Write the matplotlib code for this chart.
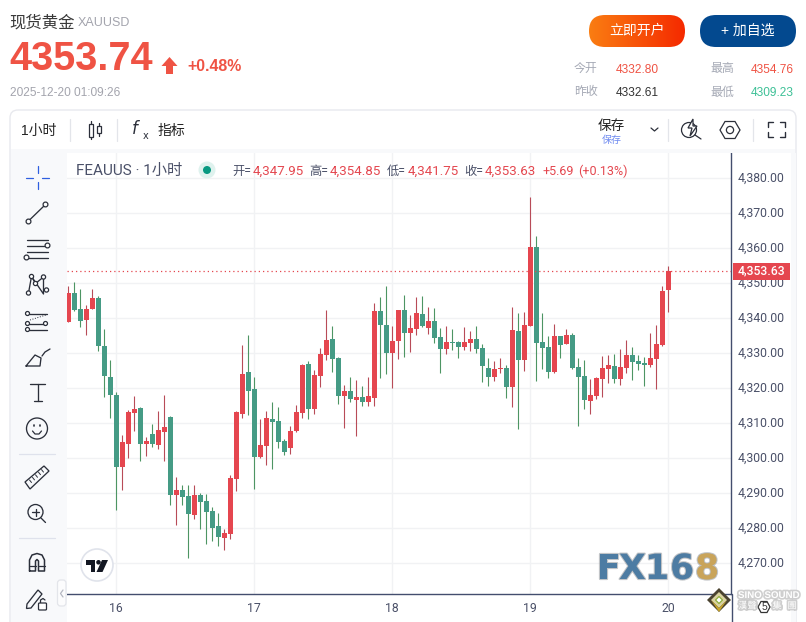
#!/usr/bin/env python3
# -*- coding: utf-8 -*-
"""现货黄金 1小时K线页面截图复刻"""
import matplotlib
matplotlib.use('Agg')
import matplotlib.pyplot as plt
import matplotlib.patheffects as pe
from matplotlib.colors import LinearSegmentedColormap
from matplotlib.patches import Circle, FancyBboxPatch, Polygon, Rectangle
from matplotlib.transforms import ScaledTranslation
import numpy as np

plt.rcParams['font.family'] = ['Liberation Sans', 'Noto Sans CJK SC', 'DejaVu Sans']

# ========== 数据 ==========
opens = [4339.0, 4347.2, 4342.7, 4339.5, 4342.7, 4345.8, 4332.1, 4323.2, 4318.1, 4297.5,
         4304.1, 4313.0, 4314.4, 4304.1, 4307.0, 4303.8, 4307.5, 4311.8, 4289.5, 4291.0,
         4289.2, 4283.8, 4289.5, 4287.8, 4285.0, 4280.7, 4277.2, 4278.4, 4294.1, 4312.7,
         4324.7, 4319.8, 4300.4, 4303.5, 4311.2, 4310.7, 4305.0, 4303.0, 4307.8, 4313.0,
         4327.0, 4314.1, 4323.5, 4329.5, 4334.1, 4328.7, 4317.8, 4319.2, 4316.7, 4317.5,
         4316.1, 4317.2, 4342.1, 4338.1, 4330.1, 4333.5, 4342.4, 4335.8, 4337.0, 4341.2,
         4337.2, 4339.2, 4334.7, 4331.2, 4333.2, 4333.2, 4331.8, 4333.0, 4334.1, 4331.5,
         4325.8, 4323.2, 4325.5, 4325.8, 4320.4, 4336.4, 4328.1, 4337.8, 4360.4, 4333.2,
         4331.8, 4324.7, 4335.0, 4332.7, 4335.2, 4326.1, 4323.5, 4316.4, 4317.8, 4322.7,
         4325.5, 4326.4, 4322.7, 4325.8, 4329.5, 4327.8, 4327.2, 4326.7, 4328.4, 4332.4,
         4347.95]
highs = [4349.2, 4350.4, 4348.4, 4343.8, 4348.4, 4346.4, 4337.0, 4328.1, 4319.0, 4306.7,
         4313.8, 4317.8, 4314.7, 4306.1, 4309.8, 4313.5, 4318.1, 4312.1, 4294.7, 4292.4,
         4292.4, 4292.4, 4290.1, 4289.8, 4286.1, 4284.4, 4279.8, 4295.2, 4313.5, 4332.4,
         4335.2, 4323.2, 4311.2, 4313.5, 4316.1, 4314.7, 4305.5, 4309.2, 4315.2, 4327.0,
         4327.8, 4325.2, 4331.5, 4342.4, 4337.8, 4329.0, 4321.0, 4323.2, 4322.4, 4320.7,
         4323.2, 4344.4, 4346.1, 4349.2, 4337.8, 4342.4, 4346.7, 4341.0, 4346.1, 4346.4,
         4343.2, 4343.0, 4337.2, 4337.8, 4337.0, 4333.5, 4337.5, 4336.4, 4337.8, 4332.7,
         4328.7, 4327.8, 4328.7, 4326.7, 4343.2, 4341.5, 4341.8, 4374.7, 4363.5, 4341.5,
         4335.0, 4338.4, 4335.0, 4337.0, 4335.8, 4328.7, 4328.1, 4322.7, 4323.2, 4329.2,
         4329.5, 4329.8, 4331.2, 4333.8, 4331.8, 4329.5, 4329.0, 4335.8, 4338.1, 4349.2,
         4354.85]
lows = [4339.0, 4342.1, 4337.5, 4335.2, 4342.7, 4330.7, 4317.5, 4311.5, 4285.2, 4291.0,
        4300.1, 4307.8, 4299.2, 4300.7, 4303.2, 4302.7, 4299.2, 4286.7, 4281.0, 4286.7,
        4271.5, 4282.7, 4279.8, 4275.5, 4276.4, 4275.0, 4273.8, 4277.0, 4290.7, 4311.5,
        4312.4, 4291.2, 4300.1, 4298.1, 4297.0, 4303.0, 4301.0, 4301.2, 4307.5, 4311.5,
        4311.2, 4312.7, 4320.4, 4328.1, 4324.7, 4315.5, 4308.7, 4316.1, 4306.4, 4315.0,
        4315.0, 4315.0, 4323.0, 4324.1, 4320.1, 4328.4, 4329.0, 4330.4, 4335.2, 4337.5,
        4335.5, 4333.0, 4324.4, 4329.8, 4331.0, 4328.7, 4331.0, 4330.7, 4330.1, 4321.8,
        4320.7, 4322.1, 4324.4, 4317.2, 4314.7, 4308.4, 4325.0, 4337.8, 4322.1, 4325.5,
        4323.0, 4324.4, 4328.7, 4332.7, 4325.5, 4309.2, 4314.1, 4312.7, 4317.0, 4317.5,
        4321.5, 4321.5, 4321.0, 4324.4, 4322.4, 4325.2, 4320.7, 4326.1, 4319.8, 4332.1,
        4341.75]
closes = [4347.2, 4342.4, 4339.2, 4342.7, 4345.8, 4332.1, 4323.5, 4318.1, 4297.5, 4304.7,
          4313.2, 4314.1, 4304.1, 4305.0, 4304.1, 4308.1, 4309.0, 4289.5, 4291.0, 4289.0,
          4284.1, 4289.5, 4287.5, 4284.7, 4280.1, 4277.5, 4278.7, 4294.4, 4313.2, 4324.1,
          4319.2, 4300.4, 4303.8, 4311.5, 4310.4, 4304.7, 4301.8, 4307.8, 4313.2, 4326.7,
          4314.1, 4323.8, 4329.8, 4333.8, 4328.4, 4317.8, 4319.2, 4317.0, 4317.5, 4316.1,
          4317.8, 4342.1, 4338.1, 4330.1, 4333.5, 4342.4, 4335.8, 4337.2, 4341.5, 4337.8,
          4339.2, 4334.4, 4331.2, 4333.2, 4333.0, 4331.8, 4333.2, 4334.1, 4331.2, 4326.4,
          4323.2, 4325.5, 4325.8, 4320.4, 4336.7, 4328.1, 4338.1, 4360.4, 4333.0, 4331.5,
          4324.7, 4335.0, 4332.4, 4335.2, 4325.8, 4323.2, 4316.7, 4318.1, 4322.9, 4325.8,
          4326.7, 4322.7, 4326.1, 4329.5, 4327.5, 4327.0, 4326.7, 4328.7, 4332.7, 4347.8,
          4353.63]
day_ticks = [8, 31, 54, 77, 100]
day_labels = ['16', '17', '18', '19', '20']
price_ticks = [4270, 4280, 4290, 4300, 4310, 4320, 4330, 4340, 4350, 4360, 4370, 4380]
last_price = 4353.63

# ========== 颜色 ==========
UP_BODY, DOWN_BODY = '#e5464f', '#459b85'
UP_WICK, DOWN_WICK = '#b84b58', '#4d9563'
GRID = '#f1f2f4'
AXIS = '#434e6e'
TEXT = '#4a5068'
ICON = '#2b2f3a'
RED = '#ef5344'
LABEL_RED = '#e4474f'
GREY = '#a3a4ad'

W, H = 806, 622
fig = plt.figure(figsize=(W / 100, H / 100), dpi=100, facecolor='white')

# ========== K线主图 ==========
AX_L, AX_R, AX_T, AX_B = 67, 731, 153, 594
ax = fig.add_axes([AX_L / W, 1 - AX_B / H, (AX_R - AX_L) / W, (AX_B - AX_T) / H])
ax.set_xlim((AX_L - 68.3) / 6, (AX_R - 68.3) / 6)
ax.set_ylim(4350 - (AX_B - 283.3) / 3.5, 4350 + (283.3 - AX_T) / 3.5)

o, h, l, c = map(np.array, (opens, highs, lows, closes))
x = np.arange(len(o))
up = c >= o
ax.vlines(x, l, h, colors=np.where(up, UP_WICK, DOWN_WICK), linewidth=0.8, zorder=3)
ax.bar(x, np.abs(c - o), bottom=np.minimum(o, c), width=5 / 6,
       color=np.where(up, UP_BODY, DOWN_BODY), linewidth=0, zorder=4)
ax.axhline(last_price, color=LABEL_RED, linewidth=0.9, linestyle=(0, (1, 2.4)), zorder=5)

ax.set_xticks(day_ticks, day_labels)
ax.set_yticks(price_ticks, [f'{p:,.2f}' for p in price_ticks])
ax.yaxis.tick_right()
ax.grid(True, color=GRID, linewidth=1)
ax.set_axisbelow(True)
ax.tick_params(axis='both', length=0, labelsize=8.8, labelcolor=TEXT)
ax.tick_params(axis='y', pad=5)
ax.tick_params(axis='x', pad=6)
for lab in ax.get_xticklabels() + ax.get_yticklabels():
    lab.set_fontfamily(['Roboto', 'DejaVu Sans'])
# 价格刻度文字整体上移一点
for lab in ax.get_yticklabels():
    lab.set_transform(lab.get_transform() + ScaledTranslation(0, 0.018, fig.dpi_scale_trans))
for side in ('top', 'left'):
    ax.spines[side].set_visible(False)
for side in ('right', 'bottom'):
    ax.spines[side].set_color(AXIS)
    ax.spines[side].set_linewidth(1)

# ========== 页面覆盖层（像素坐标） ==========
ui = fig.add_axes([0, 0, 1, 1], zorder=5)
ui.set_xlim(0, W)
ui.set_ylim(H, 0)
ui.axis('off')
ui.patch.set_alpha(0)


def txt(px, py, s, size=9, color=ICON, ha='left', va='center', **kw):
    return ui.text(px, py, s, fontsize=size, color=color, ha=ha, va=va, **kw)


def seg(pts, color=ICON, lw=0.95, **kw):
    xs, ys = zip(*pts)
    ui.plot(xs, ys, color=color, linewidth=lw, solid_capstyle='round', **kw)


def dot(px, py, r=2.4, ec=ICON, fc='white', lw=0.9):
    ui.add_patch(Circle((px, py), r, facecolor=fc, edgecolor=ec, linewidth=lw, zorder=6))


def rbox(x0, y0, x1, y1, r, fc='white', ec='none', lw=1, z=1):
    p = FancyBboxPatch((x0 + r, y0 + r), x1 - x0 - 2 * r, y1 - y0 - 2 * r,
                       boxstyle=f'round,pad={r},rounding_size={r}',
                       facecolor=fc, edgecolor=ec, linewidth=lw, zorder=z)
    ui.add_patch(p)
    return p


# 顶部行情
txt(9, 22.5, '现货黄金', 11.8, '#3a3a3a')
txt(78, 23.5, 'XAUUSD', 9, GREY)
txt(9, 59, '4353.74', 28.5, RED, fontweight='bold')
ui.add_patch(Polygon([(169.5, 57), (177.5, 66), (173, 66), (173, 74), (166, 74), (166, 66), (161.5, 66)],
                     facecolor=RED, edgecolor='none'))
txt(187, 66.5, '+0.48%', 11.4, RED, fontweight='bold')
txt(10, 93.5, '2025-12-20 01:09:26', 8.6, GREY)

# 按钮
btn = rbox(589, 15, 685, 47, 16, fc='none')
grad = LinearSegmentedColormap.from_list('btn', ['#fa7d12', '#f52a00'])
img = ui.imshow(np.linspace(0, 1, 96).reshape(1, -1), cmap=grad, extent=(589, 685, 47, 15),
                aspect='auto', zorder=2)
img.set_clip_path(btn)
ui.set_xlim(0, W)
ui.set_ylim(H, 0)
txt(637, 31, '立即开户', 10, 'white', ha='center', zorder=3)
rbox(700, 15, 796, 47, 16, fc='#03498f')
txt(748, 31, '+ 加自选', 10, 'white', ha='center', zorder=3)

# 今开/最高
txt(574, 69, '今开', 8.6, '#a5a9b5')
txt(616, 70, '4332.80', 8.6, RED)
txt(710, 69, '最高', 8.6, '#a5a9b5')
txt(751, 70, '4354.76', 8.6, RED)
txt(574, 92.5, '昨收', 8.6, '#a5a9b5')
txt(616, 93.5, '4332.61', 8.6, '#333333')
txt(710, 92.5, '最低', 8.6, '#a5a9b5')
txt(751, 93.5, '4309.23', 8.6, '#3cc096')

# 工具栏和外框
rbox(10, 110, 796, 640, 8, fc='none', ec='#e8e9ee', lw=1, z=1)
ui.add_patch(Rectangle((11, 149), 784, 4, facecolor='#f8f9fb', edgecolor='none', zorder=1))
ui.add_patch(Rectangle((11, 149), 56, 473, facecolor='#f8f9fb', edgecolor='none', zorder=1))
ui.add_patch(Rectangle((791, 153), 5, 469, facecolor='#f8f9fb', edgecolor='none', zorder=1))
for sx in (70, 117, 668, 753):
    seg([(sx, 119), (sx, 141)], '#e3e5ea', 0.9)
txt(21, 130.5, '1小时', 10, '#222222')
# 蜡烛图标
seg([(90.5, 121), (90.5, 139)], ICON, 0.9)
seg([(98.5, 123), (98.5, 136)], ICON, 0.9)
ui.add_patch(Rectangle((88.5, 124), 4, 13, facecolor='white', edgecolor=ICON, linewidth=0.9, zorder=6))
ui.add_patch(Rectangle((96.5, 126), 4, 7, facecolor='white', edgecolor=ICON, linewidth=0.9, zorder=6))
# fx 图标
txt(131, 129, '$f$', 12, ICON, family='DejaVu Sans')
txt(143, 136, 'x', 7, ICON, family='DejaVu Sans')
txt(158, 131, '指标', 10, '#222222')
txt(598, 126, '保存', 9.8, '#222222')
txt(602, 139.5, '保存', 7.2, '#6f8bf0')
seg([(651, 128), (654.5, 131), (658, 128)], ICON, 0.9)
# 闪电放大镜
ui.add_patch(Circle((689, 130), 7.5, facecolor='none', edgecolor=ICON, linewidth=0.9))
seg([(695, 135), (701, 139)], ICON, 0.9)
ui.add_patch(Polygon([(693, 119), (688, 128), (692, 128), (690, 136), (697, 126), (693, 126)],
                     facecolor='white', edgecolor=ICON, linewidth=0.9, zorder=6))
# 六边形
ui.add_patch(Polygon([(720, 130), (725, 121.5), (735, 121.5), (740, 130), (735, 138.5), (725, 138.5)],
                     facecolor='none', edgecolor=ICON, linewidth=0.9))
ui.add_patch(Circle((730, 130), 3.6, facecolor='none', edgecolor=ICON, linewidth=0.9))
# 全屏
for cx, cy, dx, dy in ((768, 122, 1, 1), (785, 122, -1, 1), (768, 137, 1, -1), (785, 137, -1, -1)):
    seg([(cx + 5 * dx, cy), (cx, cy), (cx, cy + 5 * dy)], ICON, 1.0)

# 图例
legend_font = ['Roboto', 'Noto Sans CJK SC', 'DejaVu Sans']
txt(76, 170.5, 'FEAUUS · 1小时', 11, TEXT, family=legend_font)
ui.add_patch(Circle((207, 170), 8.5, facecolor='#dff2ee', edgecolor='none'))
ui.add_patch(Circle((207, 170), 4, facecolor='#089981', edgecolor='none'))
for lx, name, vx, val in ((232, '开=', 253, '4,347.95'), (309, '高=', 330, '4,354.85'),
                          (387, '低=', 408, '4,341.75'), (464, '收=', 485, '4,353.63')):
    txt(lx, 171.5, name, 8.8, TEXT, family=legend_font)
    txt(vx, 171.5, val, 9.6, LABEL_RED, family=legend_font)
txt(542, 171.5, '+5.69', 9, LABEL_RED, family=legend_font)
txt(578, 171.5, '(+0.13%)', 9, LABEL_RED, family=legend_font)

# 最新价标签
ui.add_patch(Rectangle((733, 263), 57, 17, facecolor='#e5464f', edgecolor='none', zorder=6))
txt(738, 271, f'{last_price:,.2f}', 8.8, 'white', family=legend_font, zorder=7, fontweight='medium')
seg([(731.5, 594), (731.5, 622)], AXIS, 1)

# 左侧工具图标
seg([(26, 177.5), (33, 177.5)], '#2f5fe0', 0.9)
seg([(42, 177.5), (49, 177.5)], '#2f5fe0', 0.9)
seg([(37.5, 166), (37.5, 173)], '#2f5fe0', 0.9)
seg([(37.5, 182), (37.5, 189)], '#2f5fe0', 0.9)
seg([(28.5, 221), (45.5, 204.5)])
dot(28.5, 221.5)
dot(45.5, 204.5)
for ly in (239.5, 245.5, 251.5, 257.5):
    seg([(27, ly), (48, ly)])
dot(47.5, 245.5)
dot(26.5, 257.5)
seg([(28.5, 293), (31.5, 276.5), (43.5, 294), (43.5, 277)])
seg([(31.5, 276.5), (35.5, 283.5), (43.5, 277)])
for dx, dy in ((28.5, 293), (31.5, 276.5), (35.5, 283.5), (43.5, 277), (46.5, 290)):
    dot(dx, dy, 2.1)
seg([(29, 313.5), (47, 313.5)])
seg([(29, 323.5), (45, 323.5)])
seg([(29, 329.5), (47, 329.5)])
seg([(30, 320), (46, 315)], ICON, 0.7, linestyle=':')
for dx, dy in ((27.5, 313.5), (27.5, 323.5), (45.5, 323.5), (27.5, 329.5)):
    dot(dx, dy, 2)
seg([(26, 366), (40, 366), (41, 358), (35, 355), (26, 366)])
seg([(42, 356), (45, 352), (50, 349)])
seg([(30, 384), (45, 384)])
seg([(37.5, 384), (37.5, 401)])
seg([(33.5, 401), (41.5, 401)])
ui.add_patch(Circle((37, 428.5), 10.5, facecolor='none', edgecolor=ICON, linewidth=0.95))
seg([(34, 425), (34, 426)], ICON, 1.2)
seg([(40, 425), (40, 426)], ICON, 1.2)
seg([(32.5, 431), (35, 434), (39, 434), (41.5, 431)], ICON, 0.9)
seg([(19, 453.5), (55, 453.5)], '#dfe2ec', 0.9)
ui.add_patch(Polygon([(25, 482), (44, 466), (49, 471), (30, 489)], facecolor='none', edgecolor=ICON,
                     linewidth=0.95))
for k in range(5):
    seg([(29.5 + 3 * k, 480 - 2.6 * k), (31.5 + 3 * k, 482.5 - 2.6 * k)], ICON, 0.7)
ui.add_patch(Circle((35.5, 512), 7.5, facecolor='none', edgecolor=ICON, linewidth=0.95))
seg([(41, 518), (45.5, 522.5)])
seg([(32, 512), (39, 512)])
seg([(35.5, 508.5), (35.5, 515.5)])
seg([(19, 538), (55, 538)], '#dfe2ec', 0.9)
# 磁铁
seg([(29.5, 571), (29.5, 560), (32, 555), (37, 553.5), (42, 555), (44.5, 560), (44.5, 571),
     (38.5, 571), (38.5, 561), (37, 559.5), (35.5, 561), (35.5, 571), (29.5, 571)], ICON, 1.1)
seg([(29.5, 566), (35.5, 566)], ICON, 0.9)
seg([(38.5, 566), (44.5, 566)], ICON, 0.9)
# 锁定画笔
ui.add_patch(Polygon([(27, 604), (38, 590), (42, 594), (31, 608), (26.5, 608.5)],
                     facecolor='none', edgecolor=ICON, linewidth=0.95))
rbox(38.5, 603, 46.5, 610, 1, fc='white', ec=ICON, lw=0.9, z=6)
seg([(40.5, 603), (40.5, 600), (43, 598.5), (45, 600)], ICON, 0.9)

# 收起按钮
rbox(57.5, 580, 66, 606, 3, fc='#fcfcfd', ec='#e3e5ea', lw=0.9, z=6)
seg([(63, 590), (60.5, 593.5), (63, 597)], '#b5b8c2', 0.9, zorder=7)

# TV 标志
ui.add_patch(Circle((97, 565), 16, facecolor='white', edgecolor='#e0e3eb', linewidth=1.2, zorder=6))
ui.add_patch(Polygon([(86, 560), (95, 560), (95, 572), (90.5, 572), (90.5, 564.5), (86, 564.5)],
                     facecolor='#131722', edgecolor='none', zorder=7))
ui.add_patch(Circle((98.5, 562.3), 2.3, facecolor='#131722', edgecolor='none', zorder=7))
ui.add_patch(Polygon([(102, 560), (108, 560), (102.5, 572), (96.5, 572)],
                     facecolor='#131722', edgecolor='none', zorder=7))

# FX168 水印
shadow = [pe.withStroke(linewidth=1.6, foreground='#8f9499', alpha=0.55)]
for gx, ch, col in ((597, 'F', '#4d7ca3'), (619, 'X', '#4d7ca3'), (645, '1', '#4d7ca3'),
                    (670, '6', '#4d7ca3'), (695, '8', '#c9a45a')):
    txt(gx, 569, ch, 25, col, family='DejaVu Sans', fontweight='bold', zorder=6, path_effects=shadow)

# 右下角水印
ui.add_patch(Polygon([(719, 588), (731, 600), (719, 612), (707, 600)], facecolor='#4a4330', edgecolor='none', zorder=6))
ui.add_patch(Polygon([(719, 592), (727, 600), (719, 608), (711, 600)], facecolor='#d9d2a0', edgecolor='none', zorder=6))
ui.add_patch(Polygon([(711, 600), (719, 608), (727, 600), (719, 612)], facecolor='#c8a52a', edgecolor='none', zorder=6))
ui.add_patch(Polygon([(719, 596.5), (722.5, 600), (719, 603.5), (715.5, 600)], facecolor='white',
                     edgecolor='#8fae3a', linewidth=0.9, zorder=7))
ui.add_patch(Polygon([(758, 607), (761, 601.5), (767, 601.5), (770, 607), (767, 612.5), (761, 612.5)],
                     facecolor='none', edgecolor='#333333', linewidth=0.9, zorder=6))
txt(764, 607, '5', 7.5, '#333333', ha='center', zorder=6)
glow = [pe.withStroke(linewidth=2.4, foreground='#c4c4c4', alpha=0.8)]
txt(738, 595, 'SINO SOUND', 7, 'white', fontweight='bold', zorder=8, path_effects=glow)
for gx, ch in ((743, '漢'), (752, '聲'), (777, '集'), (792, '團')):
    txt(gx, 606, ch, 6.6, 'white', ha='center', zorder=8, path_effects=glow)

fig.savefig('out.png', dpi=100)
plt.close(fig)
